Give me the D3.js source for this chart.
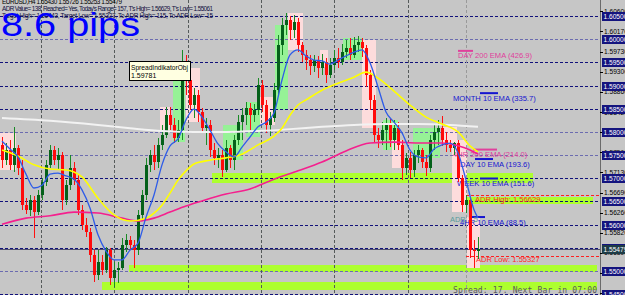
<!DOCTYPE html>
<html>
<head>
<meta charset="utf-8">
<script src="https://cdn.jsdelivr.net/npm/d3@7"></script>
<style>
html, body { margin: 0; padding: 0; background: #c6c6c6; overflow: hidden; }
svg { display: block; font-family: "Liberation Sans", Arial, sans-serif; }
</style>
</head>
<body>
<div id="chart"></div>
<script>
// ---- H4 bars (EURUSD), oldest first ----
const barOpen = [
  1.5772,1.5739,1.5761,1.5729,1.5765,1.5722,1.5642,1.5632,1.5653,1.5627,
  1.5664,1.5692,1.5729,1.5761,1.5739,1.5750,1.5653,1.5686,1.5722,1.5696,
  1.5632,1.5599,1.5584,1.5534,1.5491,1.5519,1.5502,1.5545,1.5485,1.5502,
  1.5506,1.5556,1.5567,1.5556,1.5545,1.5621,1.5664,1.5729,1.5750,1.5735,
  1.5772,1.5793,1.5836,1.5815,1.5787,1.5804,1.5934,1.5912,1.5858,1.5880,
  1.5843,1.5808,1.5815,1.5761,1.5744,1.5750,1.5718,1.5765,1.5739,1.5783,
  1.5821,1.5836,1.5852,1.5836,1.5847,1.5901,1.5858,1.5815,1.5830,1.5890,
  1.5987,1.6031,1.6041,1.6020,1.6037,1.5987,1.5966,1.5955,1.5942,1.5955,
  1.5938,1.5951,1.5923,1.5944,1.5959,1.5951,1.5972,1.5981,1.5966,1.5987,
  1.5994,1.5981,1.5923,1.5869,1.5793,1.5783,1.5804,1.5815,1.5783,1.5808,
  1.5772,1.5722,1.5744,1.5718,1.5750,1.5761,1.5735,1.5722,1.5783,1.5800,
  1.5808,1.5783,1.5772,1.5765,1.5776,1.5701,1.5642,1.5653,1.5545,1.55430
];
const barHigh = [
  1.5789,1.5776,1.5783,1.5811,1.5772,1.5739,1.5657,1.5664,1.5662,1.5675,
  1.5701,1.5739,1.5772,1.5770,1.5765,1.5757,1.5696,1.5750,1.5735,1.5707,
  1.5642,1.5614,1.5593,1.5545,1.5545,1.5534,1.5552,1.5550,1.5519,1.5519,
  1.5571,1.5580,1.5575,1.5567,1.5632,1.5675,1.5744,1.5761,1.5772,1.5787,
  1.5815,1.5854,1.5854,1.5830,1.5826,1.5977,1.5966,1.5923,1.5895,1.5890,
  1.5852,1.5830,1.5826,1.5776,1.5765,1.5761,1.5783,1.5772,1.5793,1.5836,
  1.5852,1.5865,1.5862,1.5860,1.5916,1.5912,1.5869,1.5843,1.5905,1.6009,
  1.6046,1.6056,1.6050,1.6052,1.6046,1.5994,1.5977,1.5966,1.5966,1.5964,
  1.5968,1.5959,1.5959,1.5977,1.5981,1.5990,1.5998,1.6003,1.6005,1.6007,
  1.6003,1.5987,1.5934,1.5880,1.5808,1.5821,1.5830,1.5830,1.5826,1.5821,
  1.5783,1.5754,1.5757,1.5761,1.5772,1.5765,1.5750,1.5793,1.5815,1.5826,
  1.5834,1.5800,1.5783,1.5778,1.5783,1.5707,1.5663,1.5657,1.5567,1.55726
];
const barLow = [
  1.5722,1.5729,1.5718,1.5714,1.5707,1.5632,1.5623,1.5619,1.5571,1.5621,
  1.5653,1.5683,1.5722,1.5729,1.5718,1.5632,1.5642,1.5675,1.5686,1.5621,
  1.5588,1.5573,1.5519,1.5476,1.5481,1.5491,1.5496,1.5470,1.5465,1.5474,
  1.5502,1.5541,1.5545,1.5506,1.5534,1.5610,1.5653,1.5714,1.5718,1.5722,
  1.5761,1.5787,1.5804,1.5776,1.5778,1.5783,1.5880,1.5847,1.5830,1.5821,
  1.5798,1.5772,1.5746,1.5729,1.5722,1.5703,1.5714,1.5722,1.5718,1.5772,
  1.5783,1.5815,1.5804,1.5821,1.5836,1.5843,1.5798,1.5791,1.5821,1.5880,
  1.5966,1.6009,1.5998,1.6003,1.5972,1.5951,1.5934,1.5923,1.5929,1.5916,
  1.5923,1.5905,1.5916,1.5934,1.5938,1.5944,1.5959,1.5955,1.5959,1.5972,
  1.5962,1.5897,1.5847,1.5776,1.5765,1.5772,1.5761,1.5767,1.5761,1.5761,
  1.5696,1.5707,1.5701,1.5703,1.5733,1.5722,1.5705,1.5714,1.5761,1.5772,
  1.5770,1.5757,1.5757,1.5750,1.5692,1.5627,1.5625,1.5528,1.5506,1.55253
];
const barClose = [
  1.5739,1.5761,1.5729,1.5765,1.5722,1.5642,1.5632,1.5653,1.5627,1.5664,
  1.5692,1.5729,1.5761,1.5739,1.5750,1.5653,1.5686,1.5722,1.5696,1.5632,
  1.5599,1.5584,1.5534,1.5491,1.5519,1.5502,1.5545,1.5485,1.5502,1.5506,
  1.5556,1.5567,1.5556,1.5545,1.5621,1.5664,1.5729,1.5750,1.5735,1.5772,
  1.5793,1.5836,1.5815,1.5787,1.5804,1.5934,1.5912,1.5858,1.5880,1.5843,
  1.5808,1.5815,1.5761,1.5744,1.5750,1.5718,1.5765,1.5739,1.5783,1.5821,
  1.5836,1.5852,1.5836,1.5847,1.5901,1.5858,1.5815,1.5830,1.5890,1.5987,
  1.6031,1.6041,1.6020,1.6037,1.5987,1.5966,1.5955,1.5942,1.5955,1.5938,
  1.5951,1.5923,1.5944,1.5959,1.5951,1.5972,1.5981,1.5966,1.5987,1.5994,
  1.5981,1.5923,1.5869,1.5793,1.5783,1.5804,1.5815,1.5783,1.5808,1.5772,
  1.5722,1.5744,1.5718,1.5750,1.5761,1.5735,1.5722,1.5783,1.5800,1.5808,
  1.5783,1.5772,1.5765,1.5776,1.5701,1.5642,1.5653,1.5545,1.5543,1.55479
];

// ---- indicator lines, [bar, price] ----
const ema10 = [
  [0,1.5780],[2,1.5763],[4,1.5746],[6,1.5709],[8,1.5679],[10,1.5685],[12,1.5709],[14,1.5711],
  [16,1.5705],[18,1.5698],[20,1.5675],[22,1.5636],[24,1.5578],[26,1.5543],[28,1.5524],[30,1.5524],
  [32,1.5545],[34,1.5560],[36,1.5616],[38,1.5664],[40,1.5729],[42,1.5770],[44,1.5785],[46,1.5826],
  [48,1.5849],[50,1.5832],[52,1.5804],[54,1.5774],[56,1.5757],[58,1.5746],[60,1.5767],[62,1.5789],
  [64,1.5811],[66,1.5821],[68,1.5841],[70,1.5912],[72,1.5966],[74,1.5977],[76,1.5964],[78,1.5955],
  [80,1.5953],[82,1.5946],[84,1.5955],[86,1.5964],[88,1.5972],[90,1.5977],[92,1.5949],[94,1.5897],
  [96,1.5843],[98,1.5821],[100,1.5798],[102,1.5761],[104,1.5746],[106,1.5744],[108,1.5763],[110,1.5772],
  [112,1.5776],[114,1.5755],[116,1.5696],[118,1.5632],[119,1.5614]
];
const ema50 = [
  [0,1.5761],[4,1.5748],[8,1.5729],[12,1.5720],[16,1.5718],[20,1.5703],[24,1.5657],[28,1.5621],
  [32,1.5608],[36,1.5614],[38,1.5625],[40,1.5642],[42,1.5668],[44,1.5696],[46,1.5716],[48,1.5731],
  [52,1.5739],[56,1.5744],[60,1.5752],[64,1.5772],[68,1.5791],[70,1.5808],[72,1.5836],[74,1.5858],
  [76,1.5869],[80,1.5890],[84,1.5905],[88,1.5918],[91,1.5929],[94,1.5916],[98,1.5888],[102,1.5858],
  [106,1.5832],[110,1.5817],[114,1.5800],[117,1.5770],[119,1.5757]
];
const ema200 = [
  [0,1.5601],[6,1.5614],[12,1.5619],[18,1.5627],[24,1.5625],[30,1.5614],[34,1.5608],[38,1.5614],
  [42,1.5627],[46,1.5640],[50,1.5651],[56,1.5666],[62,1.5677],[68,1.5698],[74,1.5716],[80,1.5735],
  [86,1.5759],[92,1.5776],[98,1.5778],[104,1.5776],[110,1.5776],[114,1.5770],[117,1.5761],[119,1.5752]
];
const sma200 = [
  [0,1.5830],[12,1.5824],[24,1.5815],[32,1.5808],[40,1.5802],[48,1.5800],[56,1.5800],[64,1.5802],
  [72,1.5806],[80,1.5811],[88,1.5815],[96,1.5817],[104,1.5817],[112,1.5815],[119,1.5811]
];

// ---- day boxes behind the bars: [fromBar, toBar, top, bottom, bullish] ----
const dayBoxes = [
  [-0.5,3.5,1.5798,1.5718,0],[39.5,42,1.5854,1.5804,0],[42.75,45.75,1.5927,1.5778,1],
  [46,49.5,1.5938,1.5821,0],[55.25,60.25,1.5815,1.5739,1],[61,64.5,1.5865,1.5789,1],
  [64.5,68.25,1.5875,1.5815,0],[68.25,71.5,1.6031,1.5847,1],[71.5,75.25,1.6056,1.5977,0],
  [79.5,81.5,1.5977,1.5940,0],[85.25,90,1.6003,1.5955,1],[90,93.5,1.5998,1.5808,0],
  [95.25,99,1.5826,1.5761,1],[97.5,100.25,1.5783,1.5722,0],[102.75,109.5,1.5808,1.5744,1],
  [110,113.75,1.5811,1.5772,0],[112.5,116.25,1.5783,1.5627,0],[116.25,119.5,1.5616,1.5506,0]
];

// ---- support / resistance zones: [fromBar, toBar, top, bottom] ----
const zones = [
  [52.5,132.75,1.5711,1.5690],[114.5,147.75,1.5660,1.5645],
  [31.75,148.75,1.5513,1.5498],[25,148.75,1.5476,1.5459]
];

// ---- price axis ----
const roundLevels = [1.605,1.600,1.595,1.590,1.585,1.580,1.575,1.570,1.565,1.560,1.555,1.550,1.545];
const softLevels = [1.600,1.580,1.575,1.550];
const axisTicks = [1.6060,1.6017,1.5973,1.5930,1.5886,1.5842,1.5799,1.5756,1.5713,1.5669,1.5626,1.5582,1.5539,1.5495,1.5452];
const timeGridBars = [9.75,28.1,46.4,64.7,83.1,101.4];
const daySeparatorBar = 116;
const bidPrice = 1.55479;

// ---- level labels ----
const emaNames = ["DAY 200 EMA (426.9)","MONTH 10 EMA (335.7)","4HR 200 EMA (214.0)","DAY 10 EMA (193.6)","WEEK 10 EMA (151.6)","4HR 10 EMA (88.5)"];
const emaLevels = [1.59748,1.58836,1.57619,1.57415,1.56995,1.56164];
const adrHigh = 1.56629, adrLow = 1.55327;

const headerLines = [
  "EURUSD,H4  1.55430 1.55726 1.55253 1.55479",
  "ADR Value= 138, Reached= Yes, Today's Range= 157, T's High= 1.56629, T's Low= 1.55061",
  "Target High= 1.56443, Target Low= 1.55327, To ADR High= 115, To ADR Low= 15"
];

// layout (px)
const LAYOUT = {
  width: 625, height: 295, plotRight: 600,
  emaColors: ["#e0409c","#1515d0","#e0409c","#1515d0","#1515d0","#1515d0"],
  emaTextX: [458,453,453,460,457,460],
  emaMark: [[458,473],[480,498],[473,497],[475,493],[480,498],[470,485]]
};

function draw() {
  const W = LAYOUT.width, H = LAYOUT.height, R = LAYOUT.plotRight;
  const x = d3.scaleLinear().domain([0, 149.5]).range([2, R]);
  const y = d3.scaleLinear().domain([1.550, 1.605]).range([271, 16]);

  const svg = d3.select("#chart").append("svg").attr("width", W).attr("height", H);
  svg.append("rect").attr("width", W).attr("height", H).attr("fill", "#c6c6c6");

  const plot = svg.append("g");

  // zones
  plot.selectAll("rect.zone").data(zones).join("rect")
    .attr("x", d => x(d[0])).attr("width", d => x(d[1]) - x(d[0]))
    .attr("y", d => y(d[2])).attr("height", d => y(d[3]) - y(d[2]))
    .attr("fill", "#adff2f").attr("shape-rendering", "crispEdges");

  // day boxes
  plot.selectAll("rect.day").data(dayBoxes).join("rect")
    .attr("x", d => x(d[0])).attr("width", d => x(d[1]) - x(d[0]))
    .attr("y", d => y(d[2])).attr("height", d => y(d[3]) - y(d[2]))
    .attr("fill", d => d[4] ? "#96f296" : "#fddcdc").attr("shape-rendering", "crispEdges");

  // horizontal grid
  plot.selectAll("line.hg").data(roundLevels).join("line")
    .attr("x1", 0).attr("x2", R)
    .attr("y1", d => Math.round(y(d)) + 0.5).attr("y2", d => Math.round(y(d)) + 0.5)
    .attr("stroke", d => softLevels.includes(d) ? "#6c6cb0" : "#10107a")
    .attr("stroke-dasharray", "3,2");

  // vertical grid
  plot.selectAll("line.vg").data(timeGridBars).join("line")
    .attr("x1", d => Math.round(x(d)) + 0.5).attr("x2", d => Math.round(x(d)) + 0.5)
    .attr("y1", 0).attr("y2", H)
    .attr("stroke", "#555a5a").attr("stroke-dasharray", "3,2");
  plot.append("line")
    .attr("x1", Math.round(x(daySeparatorBar)) + 0.5).attr("x2", Math.round(x(daySeparatorBar)) + 0.5)
    .attr("y1", 0).attr("y2", H)
    .attr("stroke", "#9a9a9a").attr("stroke-dasharray", "3,2");

  // bid line
  plot.append("line")
    .attr("x1", 0).attr("x2", R)
    .attr("y1", Math.round(y(bidPrice)) + 0.5).attr("y2", Math.round(y(bidPrice)) + 0.5)
    .attr("stroke", "#50506e");

  // ADR lines
  [adrHigh, adrLow].forEach(p => {
    plot.append("line")
      .attr("x1", x(daySeparatorBar)).attr("x2", R)
      .attr("y1", Math.round(y(p)) + 0.5).attr("y2", Math.round(y(p)) + 0.5)
      .attr("stroke", "#ff2020").attr("stroke-dasharray", "3,2");
  });

  // EMA level markers + labels (behind the bars)
  emaLevels.forEach((p, i) => {
    plot.append("line")
      .attr("x1", LAYOUT.emaMark[i][0]).attr("x2", LAYOUT.emaMark[i][1])
      .attr("y1", y(p)).attr("y2", y(p))
      .attr("stroke", LAYOUT.emaColors[i]).attr("stroke-width", 2);
    plot.append("text")
      .attr("x", LAYOUT.emaTextX[i]).attr("y", y(p) + 7.5)
      .attr("font-size", 7.6).attr("fill", LAYOUT.emaColors[i])
      .text(emaNames[i]);
  });
  plot.append("text").attr("x", 475).attr("y", y(adrHigh) + 7)
    .attr("font-size", 7.6).attr("fill", "#ff2a2a").text("ADR High: " + adrHigh.toFixed(5));
  plot.append("text").attr("x", 476).attr("y", y(adrLow) + 6.5)
    .attr("font-size", 7.6).attr("fill", "#ff2a2a").text("ADR Low: " + adrLow.toFixed(5));
  plot.append("text").attr("x", 450).attr("y", 222)
    .attr("font-size", 7.4).attr("fill", "#5a9a9a").text("ADR 1.5");

  // candles
  const bars = d3.range(barOpen.length);
  const g = plot.append("g").attr("shape-rendering", "crispEdges");
  g.selectAll("line.wick").data(bars).join("line")
    .attr("x1", i => Math.round(x(i)) + 0.5).attr("x2", i => Math.round(x(i)) + 0.5)
    .attr("y1", i => y(barHigh[i])).attr("y2", i => y(barLow[i]))
    .attr("stroke", i => barClose[i] >= barOpen[i] ? "#1a8a26" : "#ff1010");
  g.selectAll("rect.body").data(bars).join("rect")
    .attr("x", i => Math.round(x(i)) - 1).attr("width", 3)
    .attr("y", i => y(Math.max(barOpen[i], barClose[i])))
    .attr("height", i => Math.max(1, Math.abs(y(barOpen[i]) - y(barClose[i]))))
    .attr("fill", i => barClose[i] >= barOpen[i] ? "#05601a" : "#ff0a0a");

  // indicator lines
  const line = d3.line().x(d => x(d[0])).y(d => y(d[1])).curve(d3.curveMonotoneX);
  plot.append("path").attr("d", line(sma200)).attr("fill", "none").attr("stroke", "#f2f2f2").attr("stroke-width", 2);
  plot.append("path").attr("d", line(ema200)).attr("fill", "none").attr("stroke", "#f5208e").attr("stroke-width", 1.6);
  plot.append("path").attr("d", line(ema50)).attr("fill", "none").attr("stroke", "#ffff00").attr("stroke-width", 1.6);
  plot.append("path").attr("d", line(ema10)).attr("fill", "none").attr("stroke", "#2e5ce8").attr("stroke-width", 1.3);

  // header text
  const hdr = svg.append("g");
  hdr.append("text").attr("x", 2).attr("y", 4).attr("font-size", 6.4).attr("fill", "#000")
    .attr("textLength", 120).text(headerLines[0]);
  hdr.append("text").attr("x", 2).attr("y", 10.8).attr("font-size", 6.4).attr("fill", "#101040")
    .attr("textLength", 211).text(headerLines[1]);
  hdr.append("text").attr("x", 2).attr("y", 17.6).attr("font-size", 6.4).attr("fill", "#101040")
    .attr("textLength", 211).text(headerLines[2]);
  hdr.append("text").attr("x", 1).attr("y", 36).attr("font-size", 33).attr("fill", "#0000ff")
    .attr("textLength", 139).attr("lengthAdjust", "spacingAndGlyphs").text("8.6 pips");

  // spread / timer
  svg.append("text").attr("x", 453).attr("y", 292.5).attr("font-size", 8)
    .attr("font-family", "'DejaVu Sans Mono', monospace").attr("fill", "#5a5a5a")
    .attr("textLength", 144).text("Spread: 17. Next Bar in 07:00");

  // tooltip
  const tip = svg.append("g");
  tip.append("rect").attr("x", 129.5).attr("y", 61.5).attr("width", 61).attr("height", 19)
    .attr("fill", "#ffffe1").attr("stroke", "#000");
  tip.append("text").attr("x", 131).attr("y", 69.5).attr("font-size", 7).attr("fill", "#000")
    .attr("textLength", 57).attr("lengthAdjust", "spacingAndGlyphs").text("SpreadIndikatorObj");
  tip.append("text").attr("x", 131).attr("y", 78).attr("font-size", 7).attr("fill", "#000").text("1.59781");

  // price axis
  const ax = svg.append("g");
  ax.append("line").attr("x1", R + 0.5).attr("x2", R + 0.5).attr("y1", 0).attr("y2", H).attr("stroke", "#6a6a6a");
  const fmt = d3.format(".5f");
  ax.selectAll("line.tk").data(axisTicks).join("line")
    .attr("x1", R).attr("x2", R + 3)
    .attr("y1", d => Math.round(y(d)) + 0.5).attr("y2", d => Math.round(y(d)) + 0.5)
    .attr("stroke", "#000");
  ax.selectAll("text.tk").data(axisTicks).join("text")
    .attr("x", R + 4).attr("y", d => y(d) + 2.4)
    .attr("font-size", 6.6).attr("fill", "#000").text(fmt);
  const boxes = ax.selectAll("g.lv").data(roundLevels).join("g")
    .attr("transform", d => `translate(${R + 2},${Math.round(y(d)) - 4})`);
  boxes.append("rect").attr("width", 24).attr("height", 9).attr("fill", "#14147e");
  boxes.append("text").attr("x", 1.5).attr("y", 6.8).attr("font-size", 6.6).attr("fill", "#fff").text(fmt);
  const bid = ax.append("g").attr("transform", `translate(${R + 2},${Math.round(y(bidPrice)) - 4})`);
  bid.append("rect").attr("width", 24).attr("height", 9).attr("fill", "#1e3c46");
  bid.append("text").attr("x", 1.5).attr("y", 6.8).attr("font-size", 6.6).attr("fill", "#fff").text(fmt(bidPrice));
}

document.addEventListener("DOMContentLoaded", draw);
</script>
</body>
</html>
